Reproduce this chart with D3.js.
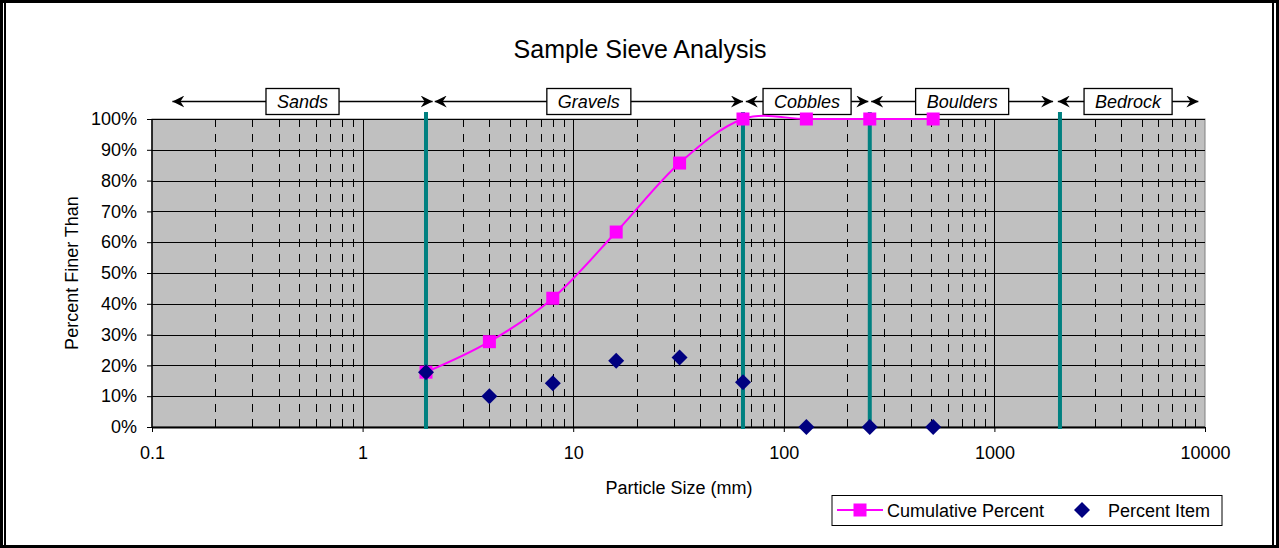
<!DOCTYPE html>
<html>
<head>
<meta charset="utf-8">
<script src="https://cdn.jsdelivr.net/npm/d3@7"></script>
<style>
html,body{margin:0;padding:0;background:#fff;}
svg{display:block;font-family:"Liberation Sans",Arial,sans-serif;}
</style>
</head>
<body>
<svg id="chart" width="1279" height="548"></svg>
<script>
// ---- data ----
const sizes = [2, 4, 8, 16, 32, 64, 128, 256, 512];
const cumulativePercent = [17.8, 27.7, 41.8, 63.3, 85.7, 100, 100, 100, 100];
const percentItem = [17.8, 10.0, 14.2, 21.5, 22.6, 14.5, 0, 0, 0];
const xTicks = [0.1, 1, 10, 100, 1000, 10000];
const xTickLabels = ["0.1", "1", "10", "100", "1000", "10000"];
const yTicks = [0, 10, 20, 30, 40, 50, 60, 70, 80, 90, 100];
const boundaries = [2, 64, 256, 2048];
const classNames = ["Sands", "Gravels", "Cobbles", "Boulders", "Bedrock"];
const classStart = [0.125, 2.2, 66, 260, 2000];
const classEnd = [2.15, 64, 252, 1900, 9300];
const seriesNames = ["Cumulative Percent", "Percent Item"];

// ---- layout ----
const W = 1279, H = 548;
const L = 152, R = 1205, T = 119, B = 427;
const svg = d3.select("#chart");
const x = d3.scaleLog().domain([0.1, 10000]).range([L, R]);
const y = d3.scaleLinear().domain([0, 100]).range([B, T]);

// frame
svg.append("rect").attr("x", 1.5).attr("y", 1.5).attr("width", W - 3).attr("height", H - 3)
  .attr("fill", "none").attr("stroke", "#000").attr("stroke-width", 3);
svg.append("line").attr("x1", 5).attr("x2", 5).attr("y1", 0).attr("y2", H).attr("stroke", "#000").attr("stroke-width", 2);
svg.append("line").attr("x1", W - 6).attr("x2", W - 6).attr("y1", 0).attr("y2", H).attr("stroke", "#000").attr("stroke-width", 2);

// title
svg.append("text").attr("x", 640).attr("y", 58).attr("text-anchor", "middle")
  .attr("font-size", 25).text("Sample Sieve Analysis");

// plot background
svg.append("rect").attr("x", L).attr("y", T).attr("width", R - L).attr("height", B - T)
  .attr("fill", "#C0C0C0").attr("stroke", "#808080").attr("stroke-width", 1);

// minor vertical grid (dashed)
const minor = [];
for (let p = -1; p < 4; p++) for (let k = 2; k <= 9; k++) minor.push(k * Math.pow(10, p));
svg.append("g").selectAll("line").data(minor).join("line")
  .attr("x1", d => Math.round(x(d)) + 0.5).attr("x2", d => Math.round(x(d)) + 0.5)
  .attr("y1", T).attr("y2", B)
  .attr("stroke", "#000").attr("stroke-width", 1).attr("stroke-dasharray", "8,7");

// major vertical grid
svg.append("g").selectAll("line").data(xTicks.slice(1, -1)).join("line")
  .attr("x1", d => Math.round(x(d)) + 0.5).attr("x2", d => Math.round(x(d)) + 0.5)
  .attr("y1", T).attr("y2", B).attr("stroke", "#000").attr("stroke-width", 1);

// horizontal grid
svg.append("g").selectAll("line").data(yTicks.slice(1)).join("line")
  .attr("x1", L).attr("x2", R)
  .attr("y1", d => Math.round(y(d)) + 0.5).attr("y2", d => Math.round(y(d)) + 0.5)
  .attr("stroke", "#000").attr("stroke-width", 1);

// axes
const yAxis = d3.axisLeft(y).tickValues(yTicks).tickFormat(d => d + "%").tickSize(5).tickPadding(10);
const gy = svg.append("g").attr("transform", `translate(${L},0)`).call(yAxis);
const xAxis = d3.axisBottom(x).tickValues(xTicks).tickFormat((d, i) => xTickLabels[i]).tickSize(5).tickPadding(14);
const gx = svg.append("g").attr("transform", `translate(0,${B})`).call(xAxis);
[gx, gy].forEach(g => {
  g.selectAll("text").attr("font-size", 18).attr("fill", "#000").attr("font-family", '"Liberation Sans",Arial,sans-serif');
  g.selectAll(".tick line").attr("stroke", "#000");
});
gx.select(".domain").remove();
gy.select(".domain").remove();
svg.append("line").attr("x1", L).attr("x2", L).attr("y1", T).attr("y2", B).attr("stroke", "#000").attr("stroke-width", 1.5);
svg.append("line").attr("x1", L).attr("x2", R).attr("y1", B + 0.5).attr("y2", B + 0.5).attr("stroke", "#000").attr("stroke-width", 2);

// axis titles
svg.append("text").attr("x", 679).attr("y", 494).attr("text-anchor", "middle")
  .attr("font-size", 18).text("Particle Size (mm)");
svg.append("text").attr("transform", `translate(78,${(T + B) / 2}) rotate(-90)`)
  .attr("text-anchor", "middle").attr("font-size", 18).text("Percent Finer Than");

// boundary lines (teal)
svg.append("g").selectAll("line").data(boundaries).join("line")
  .attr("x1", d => x(d)).attr("x2", d => x(d)).attr("y1", 112).attr("y2", 429)
  .attr("stroke", "#008080").attr("stroke-width", 4);

// classification arrows
const defs = svg.append("defs");
const mk = (id, orient) => defs.append("marker").attr("id", id)
  .attr("viewBox", "0 0 12 12").attr("refX", 12).attr("refY", 6)
  .attr("markerWidth", 12).attr("markerHeight", 12).attr("markerUnits", "userSpaceOnUse")
  .attr("orient", orient)
  .append("path").attr("d", "M0,0 L12,6 L0,12 L4,6 Z").attr("fill", "#000");
mk("arrEnd", "auto");
mk("arrStart", "auto-start-reverse");
const ay = 101.5;
const gLines = svg.append("g"), gBoxes = svg.append("g"), gTexts = svg.append("g");
classNames.forEach((name, i) => {
  const x0 = x(classStart[i]), x1 = x(classEnd[i]);
  gLines.append("line").attr("x1", x0).attr("x2", x1).attr("y1", ay).attr("y2", ay)
    .attr("stroke", "#000").attr("stroke-width", 1.3)
    .attr("marker-start", "url(#arrStart)").attr("marker-end", "url(#arrEnd)");
  const cx = (x0 + x1) / 2;
  const t = gTexts.append("text").attr("x", cx).attr("y", ay + 6.5).attr("text-anchor", "middle")
    .attr("font-size", 18).attr("font-style", "italic").text(name);
  const bw = t.node().getComputedTextLength() + 22;
  gBoxes.append("rect").attr("x", cx - bw / 2).attr("y", 88.5).attr("width", bw).attr("height", 26)
    .attr("fill", "#fff").attr("stroke", "#000").attr("stroke-width", 1.3);
});

// cumulative line
const pts = sizes.map((s, i) => [x(s), y(cumulativePercent[i])]);
svg.append("path").attr("d", d3.line().curve(d3.curveCatmullRom.alpha(0))(pts))
  .attr("fill", "none").attr("stroke", "#FF00FF").attr("stroke-width", 2);
svg.append("g").selectAll("rect").data(pts).join("rect")
  .attr("x", d => d[0] - 6.5).attr("y", d => d[1] - 6.5).attr("width", 13).attr("height", 13)
  .attr("fill", "#FF00FF");

// percent item diamonds
const diamond = "M0,-8 L8,0 L0,8 L-8,0 Z";
svg.append("g").selectAll("path").data(sizes.map((s, i) => [x(s), y(percentItem[i])])).join("path")
  .attr("transform", d => `translate(${d[0]},${d[1]})`).attr("d", diamond).attr("fill", "#000080");

// legend
const lg = svg.append("g");
lg.append("rect").attr("x", 832).attr("y", 495.5).attr("width", 390).attr("height", 30)
  .attr("fill", "#fff").attr("stroke", "#000").attr("stroke-width", 1);
lg.append("line").attr("x1", 837).attr("x2", 883).attr("y1", 510).attr("y2", 510)
  .attr("stroke", "#FF00FF").attr("stroke-width", 2);
lg.append("rect").attr("x", 860 - 6.5).attr("y", 510 - 6.5).attr("width", 13).attr("height", 13).attr("fill", "#FF00FF");
lg.append("text").attr("x", 887).attr("y", 517).attr("font-size", 18).text(seriesNames[0]);
lg.append("path").attr("transform", "translate(1082,510)").attr("d", diamond).attr("fill", "#000080");
lg.append("text").attr("x", 1108).attr("y", 517).attr("font-size", 18).text(seriesNames[1]);
</script>
</body>
</html>
